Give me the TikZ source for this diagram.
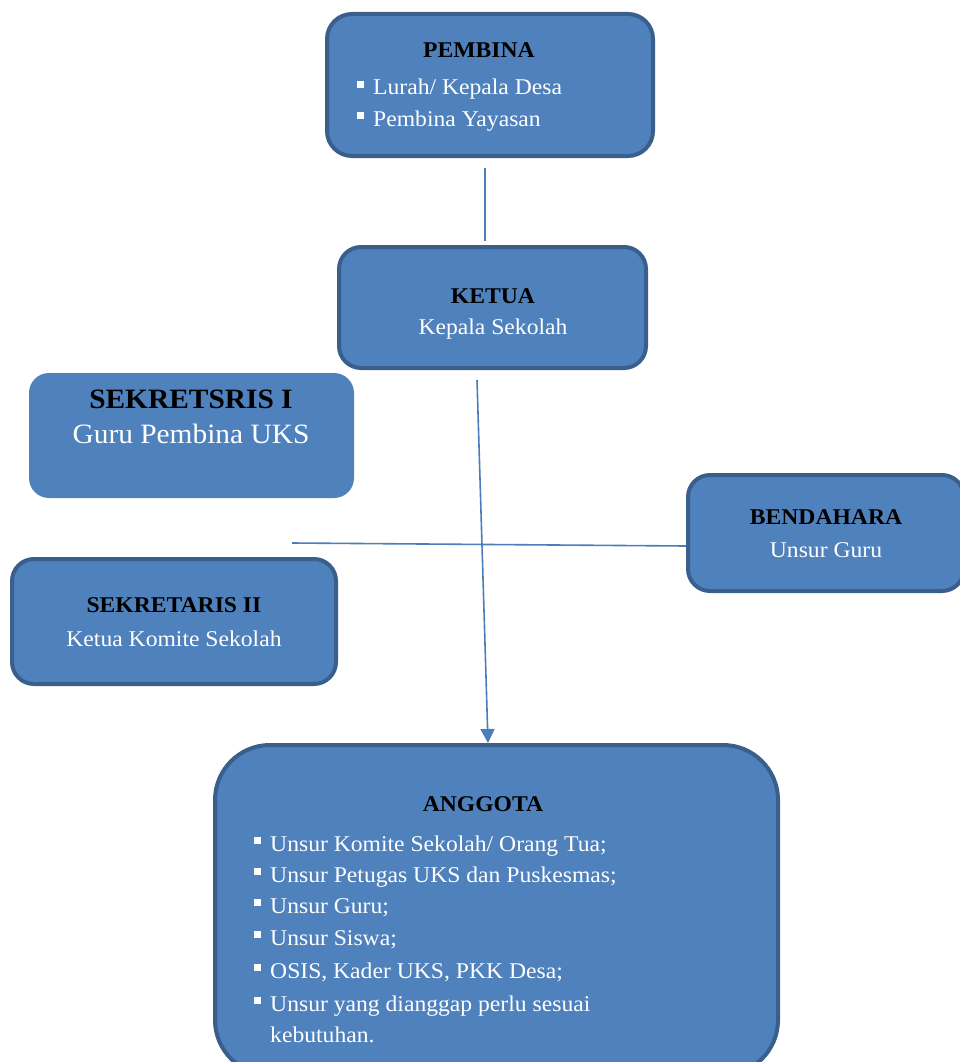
\documentclass[tikz,border=0pt]{standalone}
\usepackage{fontspec}
\setmainfont{Liberation Serif}[FakeStretch=1.05]
\usetikzlibrary{arrows.meta}
\definecolor{boxfill}{HTML}{4F81BD}
\definecolor{boxline}{HTML}{3A5F8C}
\definecolor{conn}{HTML}{4A7EBB}
\tikzset{
  box/.style={rectangle, rounded corners=#1, fill=boxfill, draw=boxline, line width=4pt, inner sep=0pt},
  plainbox/.style={rectangle, rounded corners=#1, fill=boxfill, inner sep=0pt},
  ttl/.style={font=\fontsize{22.5}{30}\selectfont\bfseries, text=black, anchor=base, inner sep=0pt},
  bodytxt/.style={font=\fontsize{22.5}{30}\selectfont, text=white, anchor=base, inner sep=0pt},
  itemtxt/.style={font=\fontsize{22.5}{30}\selectfont, text=white, anchor=base west, inner sep=0pt, align=left},
  bul/.style={fill=white, minimum size=7pt, inner sep=0pt, anchor=south west},
  connline/.style={draw=conn, line width=1.6pt},
}
\begin{document}
\begin{tikzpicture}[x=1pt,y=1pt]
\useasboundingbox (0,0) rectangle (960,-1062);
\clip (0,0) rectangle (960,-1062);
% boxes
\node[box=25pt, minimum width=326pt, minimum height=142pt] (pembina) at (490,-85) {};
\node[box=22pt, minimum width=307pt, minimum height=121pt] (ketua) at (492.5,-307.5) {};
\node[plainbox=20pt, minimum width=325pt, minimum height=125pt] (sek1) at (191.5,-435.5) {};
\node[box=22pt, minimum width=276pt, minimum height=116pt] (bendahara) at (826,-533) {};
\node[box=22pt, minimum width=324pt, minimum height=125pt] (sek2) at (174,-621.5) {};
\node[box=55pt, minimum width=563pt, minimum height=330pt] (anggota) at (496.5,-910) {};
% PEMBINA text
\node[ttl] (tpembina) at (479,-58) {PEMBINA};
\node[bul] (bp1) at (357,-88) {};
\node[itemtxt] (ip1) at (373,-95) {Lurah/ Kepala Desa};
\node[bul] (bp2) at (357,-119) {};
\node[itemtxt] (ip2) at (373,-126) {Pembina Yayasan};
% KETUA text
\node[ttl] (tketua) at (493,-303) {KETUA};
\node[bodytxt] (bketua) at (493,-334) {Kepala Sekolah};
% SEKRETSRIS I
\node[ttl, font=\fontsize{28}{34}\selectfont\bfseries] (tsek1) at (191,-408) {SEKRETSRIS I};
\node[bodytxt, font=\fontsize{28}{34}\selectfont] (bsek1) at (191,-443) {Guru Pembina UKS};
% BENDAHARA
\node[ttl] (tbend) at (826,-524) {BENDAHARA};
\node[bodytxt] (bbend) at (826,-557) {Unsur Guru};
% SEKRETARIS II
\node[ttl] (tsek2) at (174,-612) {SEKRETARIS II};
\node[bodytxt] (bsek2) at (174,-646) {Ketua Komite Sekolah};
% ANGGOTA
\node[ttl] (tang) at (483,-811) {ANGGOTA};
\node[bul] (ba1) at (254,-844) {};
\node[itemtxt] (ia1) at (270,-851) {Unsur Komite Sekolah/ Orang Tua;};
\node[bul] (ba2) at (254,-875) {};
\node[itemtxt] (ia2) at (270,-882) {Unsur Petugas UKS dan Puskesmas;};
\node[bul] (ba3) at (254,-906) {};
\node[itemtxt] (ia3) at (270,-913) {Unsur Guru;};
\node[bul] (ba4) at (254,-938) {};
\node[itemtxt] (ia4) at (270,-945) {Unsur Siswa;};
\node[bul] (ba5) at (254,-971) {};
\node[itemtxt] (ia5) at (270,-978) {OSIS, Kader UKS, PKK Desa;};
\node[bul] (ba6) at (254,-1004) {};
\node[itemtxt] (ia6) at (270,-1011) {Unsur yang dianggap perlu sesuai};
\node[itemtxt] (ia7) at (270,-1042) {kebutuhan.};
% connectors
\coordinate (c1) at (485,-168);
\coordinate (c2) at (485,-241);
\coordinate (c3) at (477,-380);
\coordinate (c4) at (292,-543);
\draw[connline] (c1) -- (c2);
\draw[connline, -{Triangle[width=14pt,length=14pt]}] (c3) -- (anggota.north -| 488,0);
\draw[connline] (c4) -- ([yshift=-13pt]bendahara.west);
\end{tikzpicture}
\end{document}
